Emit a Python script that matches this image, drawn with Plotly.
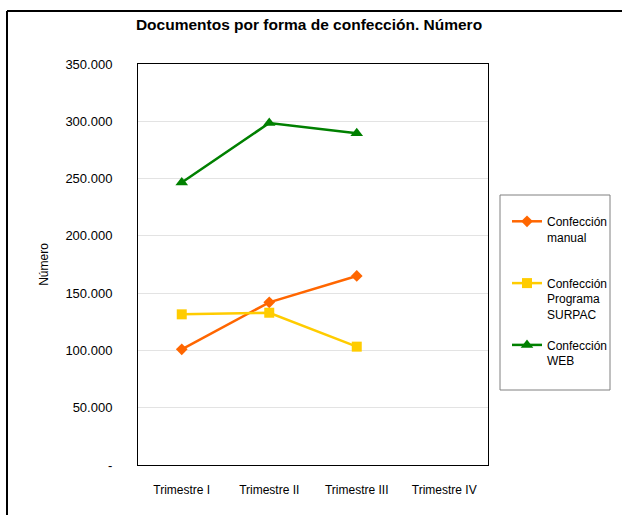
import plotly.graph_objects as go

categories = ["Trimestre I", "Trimestre II", "Trimestre III", "Trimestre IV"]
manual = [101000, 142000, 165000, None]
surpac = [131500, 132900, 103300, None]
web = [246500, 298500, 289500, None]

series_names = ["Confección<br>manual<br> ", "Confección<br>Programa<br>SURPAC", "Confección<br>WEB"]
colors = ["#FF6600", "#FFCC00", "#008000"]
symbols = ["diamond", "square", "triangle-up"]
sizes = [9, 10, 11]

ytick_vals = [0, 50000, 100000, 150000, 200000, 250000, 300000, 350000]
ytick_text = ["-", "50.000", "100.000", "150.000", "200.000", "250.000", "300.000", "350.000"]

FONT = "Liberation Sans, Arial, sans-serif"

fig = go.Figure()
for i, (name, vals, c, s, sz) in enumerate(zip(series_names, [manual, surpac, web], colors, symbols, sizes)):
    fig.add_trace(go.Scatter(
        x=categories, y=vals, name=name, mode="lines+markers",
        line=dict(color=c, width=2.5),
        marker=dict(symbol=s, size=sz, color=c),
        connectgaps=False, legendgroup=f"g{i}",
    ))

L, R, T, B = 138, 134, 64, 50
W, H = 622, 515
pw, ph = W - L - R, H - T - B

def px_x(px):
    return (px - L) / pw

def px_y(py):
    return (H - B - py) / ph

fig.update_layout(
    width=W, height=H,
    margin=dict(l=L, r=R, t=T, b=B, autoexpand=False),
    paper_bgcolor="white", plot_bgcolor="white",
    font=dict(family=FONT, size=12, color="black"),
    title=dict(text="<b>Documentos por forma de confección. Número</b>",
               x=309 / W, xanchor="center", y=1 - 25 / H, yanchor="middle",
               font=dict(size=15.5, family=FONT, color="black")),
    xaxis=dict(type="category", range=[-0.5, 3.5], showgrid=False,
               showline=True, linecolor="black", linewidth=1, mirror=True,
               ticks="", tickfont=dict(size=12), ticklabelstandoff=14),
    yaxis=dict(range=[0, 350000], tickvals=ytick_vals, ticktext=ytick_text,
               showgrid=True, gridcolor="#E3E3E3", gridwidth=1,
               showline=True, linecolor="black", linewidth=1, mirror=True,
               zeroline=False, ticks="", tickfont=dict(size=13),
               ticklabelstandoff=22,
               title=dict(text="Número", font=dict(size=12), standoff=14)),
    showlegend=True,
    legend=dict(x=px_x(507), xanchor="left", y=px_y(207), yanchor="top",
                bgcolor="rgba(0,0,0,0)", borderwidth=0,
                font=dict(size=12, family=FONT), valign="top",
                tracegroupgap=12, itemwidth=30),
    shapes=[
        dict(type="rect", xref="paper", yref="paper",
             x0=px_x(500), x1=px_x(610), y0=px_y(390), y1=px_y(195),
             line=dict(color="#808080", width=1), fillcolor="rgba(0,0,0,0)"),
        dict(type="line", xref="paper", yref="paper",
             x0=px_x(7), x1=px_x(622), y0=px_y(11), y1=px_y(11),
             line=dict(color="black", width=2)),
        dict(type="line", xref="paper", yref="paper",
             x0=px_x(7), x1=px_x(7), y0=px_y(11), y1=px_y(515),
             line=dict(color="black", width=2)),
    ],
)

fig.write_html("out.html", config={"displayModeBar": False},
               post_script="document.body.style.margin='0';")
